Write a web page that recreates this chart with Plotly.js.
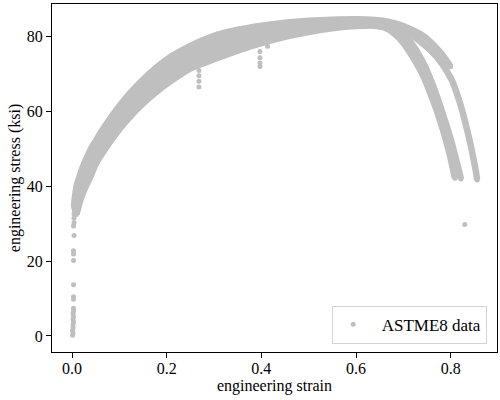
<!DOCTYPE html>
<html>
<head>
<meta charset="utf-8">
<script src="https://cdn.plot.ly/plotly-3.0.1.min.js"></script>
<style>html,body{margin:0;padding:0;background:#fff;}#plot{width:500px;height:400px;}</style>
</head>
<body>
<div id="plot"></div>
<script>
// ---- data (engineering strain, stress in ksi) ----
// specimen 1 (top of band, fractures at ~0.80)
const s1Strain = [0.004,0.006,0.008,0.01,0.015,0.02,0.03,0.04,0.05,0.06,0.08,0.10,0.12,0.15,0.18,0.21,0.25,0.30,0.35,0.40,0.45,0.50,0.55,0.60,0.64,0.67,0.70,0.72,0.745,0.765,0.78,0.79,0.80];
const s1Stress = [34.5,37.2,39.0,40.5,42.3,44.3,47.4,50.1,52.2,54.3,58.1,61.5,64.6,68.6,72.0,74.8,77.6,80.3,81.9,83.0,83.8,84.3,84.6,84.7,84.5,84.0,82.9,81.8,80.0,77.7,75.6,73.9,72.0];
// specimen 2 (longest tail)
const s2Strain = [0.005,0.008,0.011,0.015,0.02,0.03,0.04,0.05,0.06,0.08,0.10,0.12,0.15,0.18,0.21,0.25,0.30,0.35,0.40,0.45,0.50,0.55,0.60,0.64,0.67,0.70,0.72,0.745,0.765,0.778,0.79,0.803,0.812,0.821,0.828,0.835,0.842,0.848,0.853,0.856];
const s2Stress = [34.0,37.0,39.0,40.5,42.5,45.6,48.3,50.7,52.8,56.6,60.0,63.0,67.0,70.4,73.2,76.1,78.7,80.5,81.8,82.9,83.6,84.0,84.3,84.1,83.4,81.8,80.3,77.8,75.4,73.5,71.2,68.3,65.3,61.8,58.6,55.0,51.3,47.6,44.3,41.7];
// specimen 3
const s3Strain = [0.006,0.01,0.015,0.02,0.03,0.04,0.05,0.06,0.08,0.10,0.12,0.15,0.18,0.21,0.25,0.30,0.35,0.40,0.45,0.50,0.55,0.60,0.64,0.66,0.68,0.70,0.72,0.74,0.755,0.77,0.785,0.80,0.81,0.816,0.822];
const s3Stress = [33.5,36.5,38.8,40.8,43.9,46.6,49.1,51.2,55.0,58.4,61.5,65.4,68.8,71.6,74.6,77.2,79.1,80.7,81.9,82.8,83.5,83.8,83.6,83.2,82.4,80.8,77.8,73.6,69.5,64.5,58.8,52.8,48.0,45.0,42.0];
// specimen 4
const s4Strain = [0.007,0.011,0.015,0.02,0.03,0.04,0.05,0.06,0.08,0.10,0.12,0.15,0.18,0.21,0.25,0.30,0.35,0.40,0.45,0.50,0.55,0.60,0.64,0.66,0.68,0.70,0.72,0.74,0.755,0.77,0.785,0.795,0.805,0.812];
const s4Stress = [33.0,35.3,37.0,39.0,42.1,44.8,47.6,49.7,53.5,56.9,59.9,63.8,67.1,69.9,73.0,75.6,77.7,79.5,81.0,82.1,82.9,83.4,83.3,82.9,81.6,79.6,76.3,71.9,67.6,62.5,56.7,52.4,47.3,43.6];
// specimen 5 (bottom of band)
const s5Strain = [0.009,0.012,0.015,0.02,0.03,0.04,0.05,0.06,0.08,0.10,0.12,0.15,0.18,0.21,0.25,0.30,0.35,0.40,0.45,0.50,0.55,0.60,0.64,0.66,0.68,0.70,0.72,0.74,0.755,0.77,0.785,0.795,0.803,0.809];
const s5Stress = [32.5,33.8,35.3,37.3,40.3,43.0,46.0,48.1,51.9,55.3,58.3,62.2,65.5,68.3,71.5,74.0,76.3,78.3,80.0,81.3,82.3,82.9,83.0,82.5,81.0,78.4,74.6,70.1,65.6,60.5,54.6,50.0,45.8,42.2];
// isolated points: elastic loading, unload dips and outlier
const dotStrain = [0.001,0.002,0.001,0.002,0.002,0.003,0.002,0.003,0.002,0.003,0.003,0.003,0.003,0.003,0.003,0.003,0.003,0.004,0.003,0.004,0.004,0.004,0.005,0.004,0.005,0.268,0.268,0.268,0.268,0.324,0.397,0.397,0.397,0.397,0.413,0.830];
const dotStress = [0.2,0.8,1.5,2.2,3.0,3.7,4.5,5.2,6.0,6.7,7.4,9.8,10.5,13.7,20.2,21.9,22.8,26.9,29.4,30.3,31.5,32.6,33.5,34.3,35.2,71.0,69.6,68.1,66.6,75.2,76.1,74.4,73.0,72.1,77.5,29.8];
// axes
const xTickVals = [0.0,0.2,0.4,0.6,0.8];
const xTickText = ['0.0','0.2','0.4','0.6','0.8'];
const yTickVals = [0,20,40,60,80];
const yTickText = ['0','20','40','60','80'];

const grey = '#bfbfbf';
const font = 'Liberation Serif, Times New Roman, serif';
const specs = [[s1Strain,s1Stress],[s2Strain,s2Stress],[s3Strain,s3Stress],[s4Strain,s4Stress],[s5Strain,s5Stress]];
const traces = specs.map(([x,y]) => ({
  x: x, y: y, type: 'scatter', mode: 'lines+markers',
  line: {color: grey, width: 6.5, shape: 'spline', smoothing: 0.6},
  marker: {color: grey, size: 5},
  showlegend: false, hoverinfo: 'skip'
}));
traces.push({
  x: dotStrain, y: dotStress, type: 'scatter', mode: 'markers',
  marker: {color: grey, size: 5}, name: '\u2002ASTME8 data', showlegend: true
});

const axisCommon = {
  showgrid: false, zeroline: false, showline: true, mirror: true,
  linecolor: '#000', linewidth: 1, ticks: 'outside', ticklen: 5, tickwidth: 1,
  tickcolor: '#000', tickfont: {family: font, size: 16, color: '#000'}
};
const layout = {
  width: 500, height: 400,
  margin: {l: 52, r: 3, t: 4, b: 48, pad: 0},
  paper_bgcolor: '#fff', plot_bgcolor: '#fff',
  font: {family: font, size: 16, color: '#000'},
  xaxis: Object.assign({}, axisCommon, {
    range: [-0.0425, 0.898], tickmode: 'array', tickvals: xTickVals, ticktext: xTickText,
    automargin: true, ticklabelstandoff: -3,
    title: {text: 'engineering strain', font: {family: font, size: 16, color: '#000'}, standoff: 0}
  }),
  yaxis: Object.assign({}, axisCommon, {
    range: [-4.3, 88.8], tickmode: 'array', tickvals: yTickVals, ticktext: yTickText,
    automargin: true,
    title: {text: 'engineering stress (ksi)', font: {family: font, size: 16, color: '#000'}, standoff: 2}
  }),
  showlegend: true,
  legend: {
    x: 0.978, y: 0.024, xanchor: 'right', yanchor: 'bottom',
    bgcolor: 'rgba(255,255,255,0.8)', bordercolor: '#d4d4d4', borderwidth: 1,
    font: {family: font, size: 17, color: '#000'}
  }
};
Plotly.newPlot('plot', traces, layout, {displayModeBar: false, staticPlot: true});
</script>
</body>
</html>
